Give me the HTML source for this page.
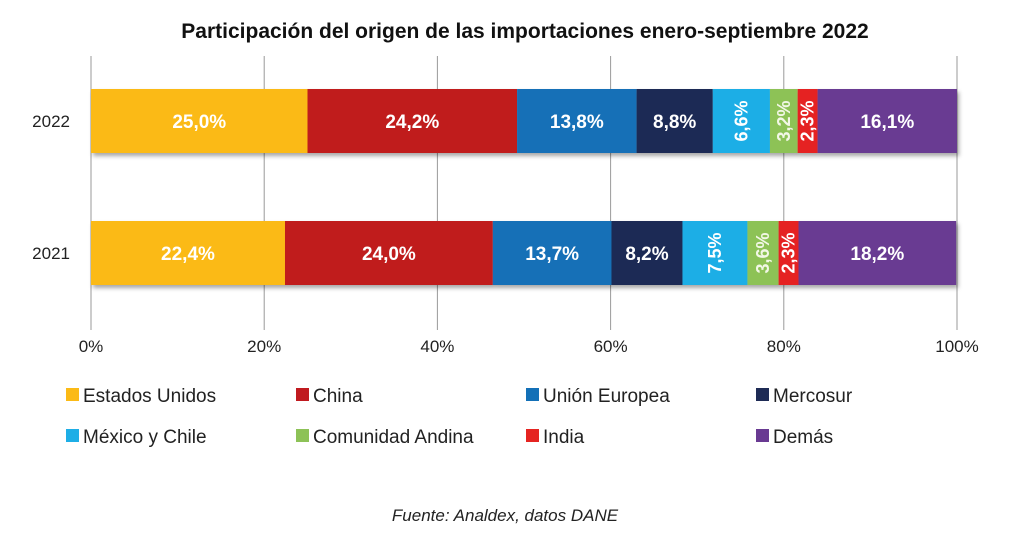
<!DOCTYPE html>
<html><head><meta charset="utf-8"><style>
body{margin:0;background:#fff;width:1012px;height:531px;overflow:hidden;font-family:"Liberation Sans",sans-serif}
</style></head><body>
<svg id="c" width="1012" height="531" xmlns="http://www.w3.org/2000/svg">
<defs><filter id="sh" x="-5%" y="-20%" width="110%" height="150%"><feDropShadow dx="2" dy="3" stdDeviation="2" flood-color="#000" flood-opacity="0.35"/></filter></defs>
<text x="525" y="38" text-anchor="middle" font-size="21" font-weight="bold" fill="#111">Participación del origen de las importaciones enero-septiembre 2022</text>
<g id="grid"></g><g id="bars"></g><g id="ticks"></g><g id="legend"></g>
<text x="505" y="521" text-anchor="middle" font-size="17" font-style="italic" fill="#222">Fuente: Analdex, datos DANE</text>
</svg>
<script>
const years=["2022","2021"];
const categories=["Estados Unidos","China","Unión Europea","Mercosur","México y Chile","Comunidad Andina","India","Demás"];
const colors=["#FBBA16","#C01A1F","#1370B7","#1E2B55","#1EAEE6","#8DC257","#E52421","#693A92"];
const v2022=[25.0,24.2,13.8,8.8,6.6,3.2,2.3,16.1];
const v2021=[22.4,24.0,13.7,8.2,7.5,3.6,2.3,18.2];
const ticks=[0,20,40,60,80,100];
const series=[v2022,v2021];
const NS="http://www.w3.org/2000/svg";
const x0=91,x1=957;
const xs=v=>x0+(x1-x0)*v/100;
const rowY=[89,221],bh=64;
function mk(t,a,p){const e=document.createElementNS(NS,t);for(const k in a)e.setAttribute(k,a[k]);p.appendChild(e);return e;}
const G=document.getElementById('grid'),B=document.getElementById('bars'),T=document.getElementById('ticks'),L=document.getElementById('legend');
ticks.forEach(t=>{
 const l=mk('line',{x1:xs(t),x2:xs(t),y1:56,y2:330,stroke:'#9a9a9a','stroke-width':1},G);
 
 
 const tx=mk('text',{x:xs(t),y:352,'text-anchor':'middle','font-size':17,fill:'#222'},T);tx.textContent=t+'%';
 
 
});
series.forEach((vals,r)=>{
 const y=rowY[r];
 const yl=mk('text',{x:70,y:y+bh/2+6,'text-anchor':'end','font-size':17,fill:'#222'},T);yl.textContent=years[r];
 
 
 const g=mk('g',{filter:'url(#sh)'},B);
 let acc=0;
 vals.forEach((v,i)=>{
  const a=xs(acc),b=xs(acc+v);acc+=v;
  const rc=mk('rect',{x:a,y:y,width:b-a,height:bh,fill:colors[i]},g);
  
  
 });
 acc=0;
 vals.forEach((v,i)=>{
  const a=xs(acc),b=xs(acc+v);acc+=v;
  const cx=(a+b)/2,cy=y+bh/2;
  const lbl=v.toFixed(1).replace('.',',')+'%';
  let t;
  if(v<8){t=mk('text',{x:cx,y:cy,'text-anchor':'middle','font-size':18,'font-weight':'bold',fill:(i==5?'#f2f7e6':'#fff'),transform:`rotate(-90 ${cx} ${cy})`,dy:6},B);}
  else{t=mk('text',{x:cx,y:cy+7,'text-anchor':'middle','font-size':19,'font-weight':'bold',fill:'#fff'},B);}
  t.textContent=lbl;
  
  
 });
});
categories.forEach((c,i)=>{
 const lx=66+230*(i%4),ly=388+41*Math.floor(i/4);
 const g=mk('g',{},L);
 
 
 mk('rect',{x:lx,y:ly,width:13,height:13,fill:colors[i]},g);
 const t=mk('text',{x:lx+17,y:ly+14,'font-size':19,fill:'#222'},g);t.textContent=c;
});
</script>
</body></html>
